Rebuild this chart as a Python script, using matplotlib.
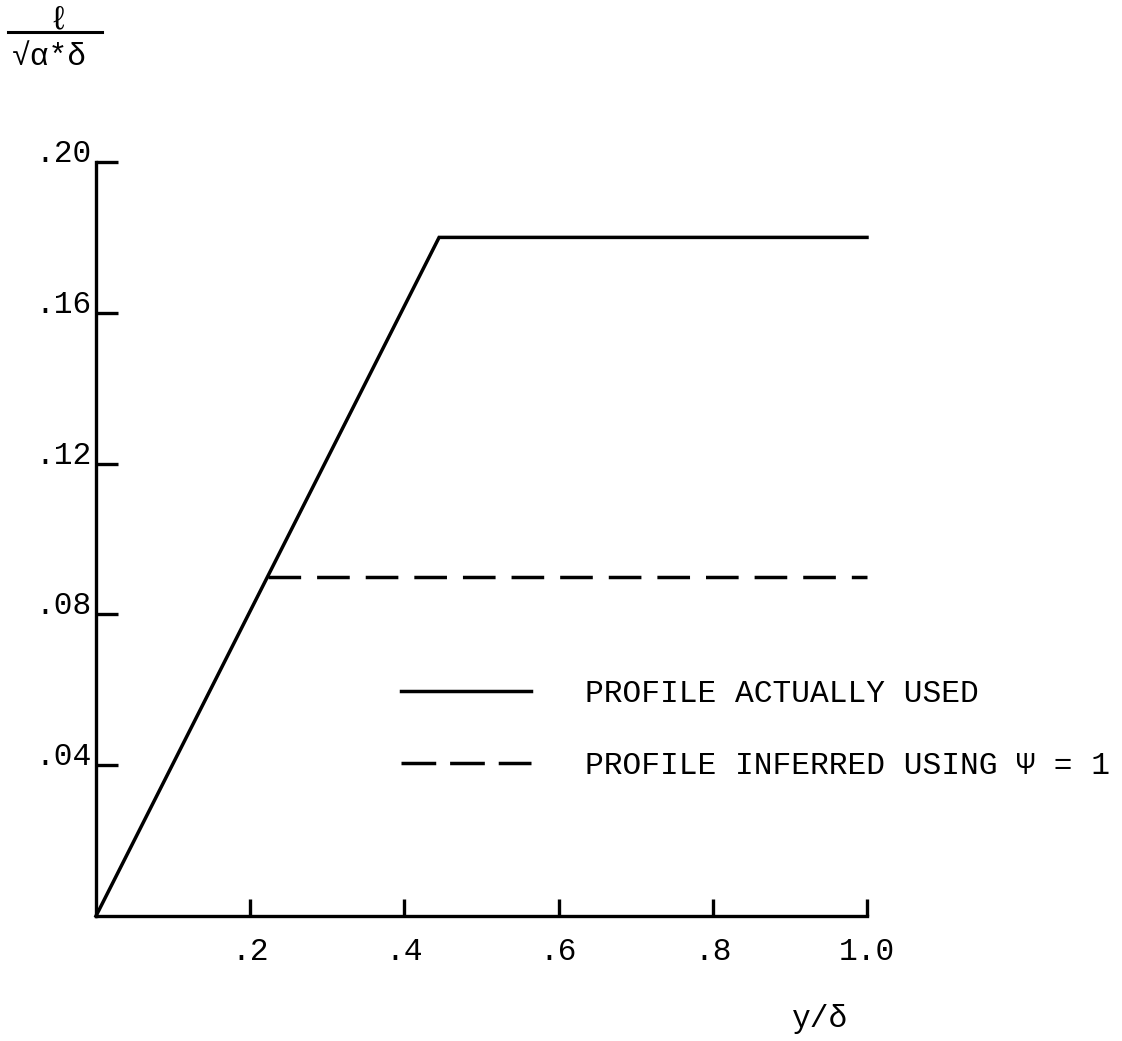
import matplotlib
matplotlib.use("Agg")
import matplotlib.pyplot as plt
from matplotlib.lines import Line2D

plt.rcParams['font.family'] = ['Liberation Mono', 'DejaVu Sans']
plt.rcParams['lines.scale_dashes'] = False

# Data
x_used = [0.0, 0.445, 1.0]
y_used = [0.0, 0.18, 0.18]
x_inferred = [0.223, 1.0]
y_inferred = [0.09, 0.09]
x_ticks = [0.2, 0.4, 0.6, 0.8, 1.0]
x_ticklabels = ['.2', '.4', '.6', '.8', '1.0']
y_ticks = [0.04, 0.08, 0.12, 0.16, 0.20]
y_ticklabels = ['.04', '.08', '.12', '.16', '.20']
labels = ['PROFILE ACTUALLY USED', 'PROFILE INFERRED USING \u03a8 = 1']

W, H = 1122, 1041
fig = plt.figure(figsize=(W / 100, H / 100), dpi=100)
ax = fig.add_axes([96 / W, 1 - 916 / H, (867 - 96) / W, (916 - 162) / H])

lw = 2.5
dash = (23.5, 11.5)
ax.plot(x_used, y_used, color='black', lw=lw, clip_on=False, solid_joinstyle='miter')
ax.plot(x_inferred, y_inferred, color='black', lw=lw, clip_on=False, dashes=dash)

ax.set_xlim(0, 1.0)
ax.set_ylim(0, 0.2)
for s in ['top', 'right']:
    ax.spines[s].set_visible(False)
for s in ['left', 'bottom']:
    ax.spines[s].set_linewidth(2.4)

fs = 22.5
ax.set_xticks(x_ticks)
ax.set_xticklabels(x_ticklabels, fontsize=fs)
ax.set_yticks(y_ticks)
ax.set_yticklabels(y_ticklabels, fontsize=fs)
ax.tick_params(axis='x', direction='in', length=12, width=2.4, pad=15)
ax.tick_params(axis='y', direction='in', length=16, width=2.4, pad=3)
for t in ax.get_yticklabels():
    t.set_verticalalignment('baseline')

# Legend
handles = [Line2D([], [], color='black', lw=lw),
           Line2D([], [], color='black', lw=lw, dashes=(25.0, 10.0))]
leg = ax.legend(handles, labels, loc='center left',
                bbox_to_anchor=(401 / W, 1 - 730 / H), bbox_transform=fig.transFigure,
                frameon=False, fontsize=fs, handlelength=4.15, handletextpad=1.75,
                labelspacing=1.35, borderpad=0, borderaxespad=0)

# Axis labels
fig.text(820 / W, 1 - 1019 / H, 'y/\u03b4', fontsize=fs, ha='center', va='center')
fig.text(58 / W, 1 - 20 / H, '\u2113', fontsize=24, ha='center', va='center')
fig.add_artist(Line2D([8 / W, 102 / W], [1 - 32 / H, 1 - 32 / H], color='black', lw=2.2,
                      transform=fig.transFigure))
fig.text(49 / W, 1 - 57 / H, '\u221a\u03b1*\u03b4', fontsize=fs, ha='center', va='center')

fig.savefig('out.png', dpi=100, facecolor='white')
